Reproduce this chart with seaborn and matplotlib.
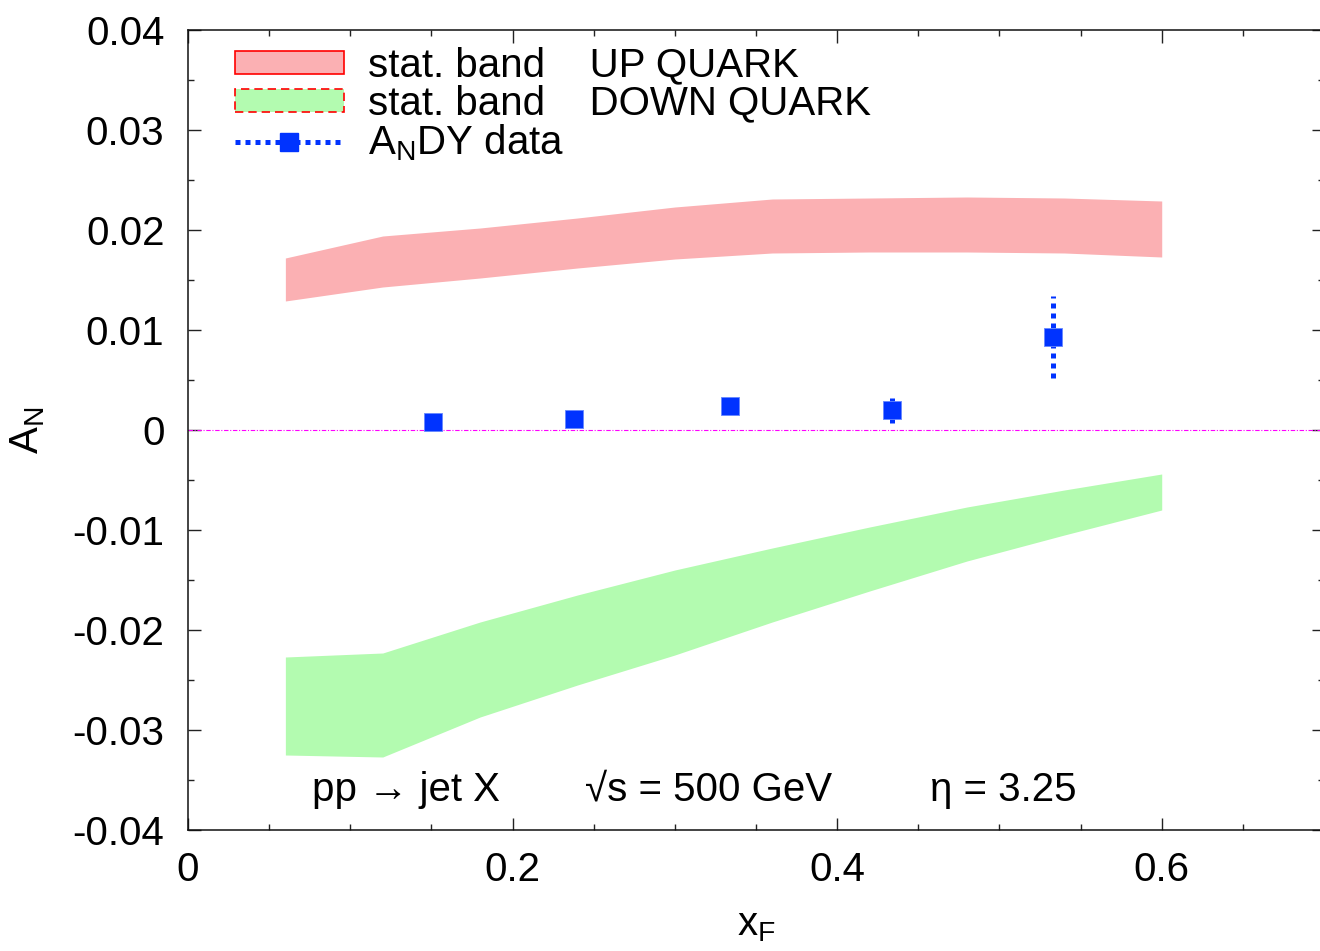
import numpy as np
import matplotlib
matplotlib.use("Agg")
import matplotlib.pyplot as plt
import seaborn as sns
import pandas as pd
from matplotlib.ticker import MultipleLocator, FixedLocator
from matplotlib.patches import Patch
from matplotlib.lines import Line2D

# ---- data ----
band_x = [0.06, 0.12, 0.18, 0.24, 0.30, 0.36, 0.42, 0.48, 0.54, 0.60]
up_upper = [0.0172, 0.0194, 0.0202, 0.0212, 0.0223, 0.0231, 0.0232, 0.0233, 0.0232, 0.0229]
up_lower = [0.0129, 0.0143, 0.0152, 0.0162, 0.0171, 0.0177, 0.0178, 0.0178, 0.0177, 0.0173]
down_upper = [-0.0227, -0.0223, -0.0192, -0.0165, -0.0140, -0.0118, -0.0097, -0.0077, -0.0060, -0.0044]
down_lower = [-0.0325, -0.0327, -0.0287, -0.0255, -0.0225, -0.0192, -0.0161, -0.0131, -0.0105, -0.0080]

data_x = [0.151, 0.238, 0.334, 0.434, 0.533]
data_y = [0.0008, 0.0011, 0.0024, 0.0020, 0.0093]
data_err = [0.0003, 0.0003, 0.0003, 0.0013, 0.0041]

x_ticks = [0, 0.2, 0.4, 0.6]
x_ticklabels = ["0", "0.2", "0.4", "0.6"]
y_ticks = [0.04, 0.03, 0.02, 0.01, 0, -0.01, -0.02, -0.03, -0.04]
y_ticklabels = ["0.04", "0.03", "0.02", "0.01", "0", "-0.01", "-0.02", "-0.03", "-0.04"]

sns.set_style("ticks")
plt.rcParams['font.family'] = ['Liberation Sans', 'DejaVu Sans']
plt.rcParams['mathtext.fontset'] = 'custom'
plt.rcParams['mathtext.rm'] = 'Liberation Sans'
plt.rcParams['mathtext.it'] = 'Liberation Sans'
plt.rcParams['text.color'] = 'black'
plt.rcParams['axes.labelcolor'] = 'black'
plt.rcParams['xtick.color'] = 'black'
plt.rcParams['ytick.color'] = 'black'

FS = 29
UP_FILL = '#fbb0b3'
DOWN_FILL = '#b3fbb0'
BLUE = '#0033ff'

fig = plt.figure(figsize=(13.2, 9.51), dpi=100)
ax = fig.add_axes([188/1320, 121/951, 1136/1320, 800/951])

ax.fill_between(band_x, up_lower, up_upper, color=UP_FILL, lw=0, zorder=1)
ax.fill_between(band_x, down_lower, down_upper, color=DOWN_FILL, lw=0, zorder=1)

ax.axhline(0, color='#ff00ff', lw=0.8, ls=(0, (4, 1.5, 1, 1.5)), zorder=2)

ax.errorbar(data_x, data_y, yerr=data_err, fmt='none', ecolor=BLUE,
            elinewidth=3.6, capsize=0, zorder=3)
for lc in ax.containers[-1].lines[2]:
    lc.set_linestyle((0, (1, 1)))
df = pd.DataFrame({"x": data_x, "y": data_y})
sns.scatterplot(data=df, x="x", y="y", marker='s', s=150, color=BLUE,
                edgecolor='#6688ff', linewidth=0.6, ax=ax, zorder=4)

ax.set_xlim(0, 0.7)
ax.set_ylim(-0.04, 0.04)
ax.xaxis.set_major_locator(FixedLocator(x_ticks))
ax.set_xticklabels(x_ticklabels)
ax.xaxis.set_minor_locator(MultipleLocator(0.05))
ax.yaxis.set_major_locator(FixedLocator(y_ticks))
ax.set_yticklabels(y_ticklabels)
ax.yaxis.set_minor_locator(MultipleLocator(0.005))

ax.tick_params(which='both', direction='in', top=True, right=True, width=1.0, color='#222222')
ax.tick_params(which='major', length=9, labelsize=FS)
ax.tick_params(which='minor', length=4.5)
ax.tick_params(axis='x', which='major', pad=15)
ax.tick_params(axis='y', which='major', pad=17)
for s in ax.spines.values():
    s.set_linewidth(1.1)
    s.set_color('#111111')

ax.set_xlabel(r"x$_\mathregular{F}$", fontsize=FS)
ax.set_ylabel(r"A$_\mathregular{N}$", fontsize=FS)
ax.xaxis.set_label_coords(0.5, -0.095)
ax.yaxis.set_label_coords(-0.124, 0.5)

ax.text(0.0764, -0.036, "pp \u2192 jet X", fontsize=FS, va='center', ha='left')
ax.text(0.2445, -0.036, "\u221as = 500 GeV", fontsize=FS, va='center', ha='left')
ax.text(0.457, -0.036, "\u03b7 = 3.25", fontsize=FS, va='center', ha='left')

handles = [
    Patch(facecolor=UP_FILL, edgecolor='red', lw=1.2),
    Patch(facecolor=DOWN_FILL, edgecolor='red', lw=1.2, ls=(0, (5, 3))),
    Line2D([], [], color=BLUE, lw=3.6, ls=(0, (1, 1)), marker='s', markersize=13,
           markerfacecolor=BLUE, markeredgecolor=BLUE),
]
labels = ["stat. band    UP QUARK", "stat. band    DOWN QUARK", r"A$_\mathregular{N}$DY data"]
leg = ax.legend(handles, labels, loc='upper left', bbox_to_anchor=(0.0414, 0.979),
                frameon=False, fontsize=FS, handlelength=2.7, handleheight=0.5,
                handletextpad=0.6, labelspacing=0.0, borderpad=0, borderaxespad=0)

fig.savefig("out.png", dpi=100)
